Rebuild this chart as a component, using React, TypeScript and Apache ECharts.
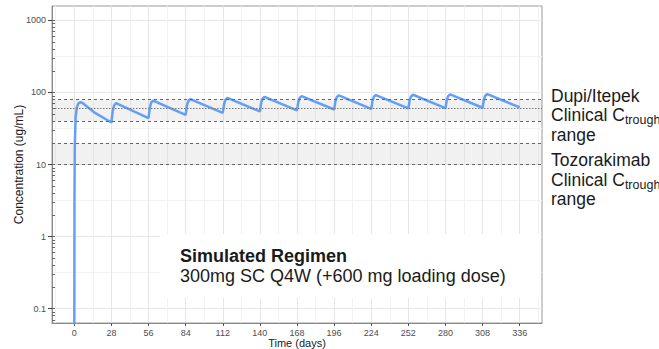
import React, { useEffect, useRef } from "react";
import * as echarts from "echarts";

// Simulated concentration-time profile (days, ug/mL)
const days = [
  0, 0.15, 0.4, 1, 2, 3, 4.5, 6, 15,
  28, 29, 30, 31.5,
  56, 57, 58, 59.5,
  84, 85, 86, 87.5,
  112, 113, 114, 115.5,
  140, 141, 142, 143.5,
  168, 169, 170, 171.5,
  196, 197, 198, 199.5,
  224, 225, 226, 227.5,
  252, 253, 254, 255.5,
  280, 281, 282, 283.5,
  308, 309, 310, 311.5,
  336,
];
const conc = [
  0.01, 3, 18, 45, 63, 70, 73, 72, 53,
  38.3, 55, 66, 71,
  44, 61.5, 72, 77,
  49, 66, 76, 81,
  52, 69, 79, 84,
  54.5, 72, 82, 87,
  56.5, 74, 84, 89,
  58, 76, 86, 91,
  59, 77, 87, 92,
  60, 78, 88, 93,
  60.7, 79, 89, 94,
  61.3, 80, 90, 95,
  62,
];

const xTicks = [0, 28, 56, 84, 112, 140, 168, 196, 224, 252, 280, 308, 336];
const xMinorGrid = [-14, 14, 42, 70, 98, 126, 154, 182, 210, 238, 266, 294, 322, 350];
const yTicks = [0.1, 1, 10, 100, 1000];
const yHalfGrid = [0.316, 3.16, 31.6, 316];
const yLogTicks = [
  0.07, 0.08, 0.09, 0.1,
  0.2, 0.3, 0.4, 0.5, 0.6, 0.7, 0.8, 0.9, 1,
  2, 3, 4, 5, 6, 7, 8, 9, 10,
  20, 30, 40, 50, 60, 70, 80, 90, 100,
  200, 300, 400, 500, 600, 700, 800, 900, 1000,
];
const dupiRange = [40, 80];
const dupiMid = 60;
const tozoRange = [10, 20];

const FONT = '"Liberation Sans", Arial, Helvetica, sans-serif';

export default function App() {
  const ref = useRef<HTMLDivElement>(null);
  useEffect(() => {
    if (!ref.current) return;
    const chart = echarts.init(ref.current, null, { renderer: "svg" });
    const yMin = Math.pow(10, -1.2);
    const yMax = Math.pow(10, 3.2);
    const txt = (text: string, x: number, y: number, size = 17.5, weight = "normal") => ({
      type: "text",
      x,
      y,
      z: 10,
      silent: true,
      style: {
        text,
        fontSize: size,
        fontWeight: weight,
        fontFamily: FONT,
        fill: "#1a1a1a",
        verticalAlign: "middle",
        align: "left",
      },
    });
    const ctrough = (x: number, y: number) => ({
      type: "text",
      x,
      y,
      z: 10,
      silent: true,
      style: {
        text: "{m|Clinical C}{s|trough}",
        fontFamily: FONT,
        fill: "#1a1a1a",
        verticalAlign: "middle",
        align: "left",
        rich: {
          m: { fontSize: 17.5, fontFamily: FONT, fill: "#1a1a1a", lineHeight: 22, verticalAlign: "middle" },
          s: {
            fontSize: 12.5,
            fontFamily: FONT,
            fill: "#1a1a1a",
            lineHeight: 22,
            verticalAlign: "middle",
            padding: [10, 0, 0, 0],
          },
        },
      },
    });
    const option: any = {
      animation: false,
      grid: {
        left: 52,
        top: 6,
        right: 117,
        bottom: 26,
        show: true,
        borderColor: "#9a9a9a",
        borderWidth: 1,
        backgroundColor: "#fff",
        containLabel: false,
        outerBoundsMode: "none",
      },
      xAxis: [
        {
          type: "value",
          position: "bottom",
          min: -16.8,
          max: 352.8,
          name: "Time (days)",
          nameLocation: "middle",
          nameGap: 14,
          nameMoveOverlap: false,
          nameTextStyle: { fontSize: 11, lineHeight: 11, color: "#1a1a1a", fontFamily: FONT },
          axisLine: { show: true, onZero: false, lineStyle: { color: "#8a8a8a", width: 1 } },
          axisTick: { show: true, customValues: xTicks, length: 3, lineStyle: { color: "#555" } },
          axisLabel: {
            customValues: xTicks,
            fontSize: 9,
            lineHeight: 9,
            color: "#4d4d4d",
            fontFamily: FONT,
            margin: 5,
          },
          splitLine: { show: true, lineStyle: { color: "#e6e6e6", width: 1 } },
        },
        {
          type: "value",
          position: "bottom",
          min: -16.8,
          max: 352.8,
          axisLine: { show: false, onZero: false },
          axisTick: { show: false, customValues: xMinorGrid },
          axisLabel: { show: false },
          splitLine: { show: true, lineStyle: { color: "#f2f2f2", width: 1 } },
        },
      ],
      yAxis: [
        {
          type: "log",
          logBase: 10,
          position: "left",
          min: yMin,
          max: yMax,
          name: "Concentration (ug/mL)",
          nameLocation: "middle",
          nameGap: 27,
          nameMoveOverlap: false,
          nameTextStyle: { fontSize: 12, color: "#1a1a1a", fontFamily: FONT },
          axisLine: { show: true, onZero: false, lineStyle: { color: "#8a8a8a", width: 1 } },
          axisTick: { show: true, customValues: yTicks, length: 4, lineStyle: { color: "#444" } },
          axisLabel: {
            customValues: yTicks,
            fontSize: 9,
            color: "#4d4d4d",
            fontFamily: FONT,
            margin: 6,
            formatter: (v: number) => String(v),
          },
          splitLine: { show: true, lineStyle: { color: "#e6e6e6", width: 1 } },
        },
        {
          type: "log",
          logBase: 10,
          position: "left",
          min: yMin,
          max: yMax,
          axisLine: { show: false, onZero: false },
          axisTick: {
            show: true,
            inside: true,
            customValues: yLogTicks,
            length: 3,
            lineStyle: { color: "#666", width: 1 },
          },
          axisLabel: { show: false },
          splitLine: { show: false },
        },
        {
          type: "log",
          logBase: 10,
          position: "left",
          min: yMin,
          max: yMax,
          axisLine: { show: false, onZero: false },
          axisTick: { show: false, customValues: yHalfGrid },
          axisLabel: { show: false },
          splitLine: { show: true, lineStyle: { color: "#f2f2f2", width: 1 } },
        },
      ],
      series: [
        {
          type: "line",
          xAxisIndex: 0,
          yAxisIndex: 0,
          data: days.map((d, i) => [d, conc[i]]),
          showSymbol: false,
          symbol: "none",
          clip: true,
          z: 4,
          lineStyle: { color: "#62a0f8", width: 2.5 },
          markArea: {
            silent: true,
            itemStyle: { color: "rgba(0,0,0,0.055)" },
            data: [
              [{ yAxis: dupiRange[0] }, { yAxis: dupiRange[1] }],
              [{ yAxis: tozoRange[0] }, { yAxis: tozoRange[1] }],
            ],
          },
          markLine: {
            silent: true,
            symbol: ["none", "none"],
            label: { show: false },
            lineStyle: { color: "#666", type: [3, 3], width: 1 },
            data: [
              { yAxis: dupiRange[1] },
              { yAxis: dupiMid, lineStyle: { type: [1.5, 1.5], color: "#777" } },
              { yAxis: dupiRange[0] },
              { yAxis: tozoRange[1] },
              { yAxis: tozoRange[0] },
            ],
          },
        },
      ],
      graphic: [
        {
          type: "rect",
          z: 1,
          silent: true,
          shape: { x: 160, y: 234, width: 381, height: 64 },
          style: { fill: "#ffffff" },
        },
        txt("Simulated Regimen", 180, 255.5, 18, "bold"),
        txt("300mg SC Q4W (+600 mg loading dose)", 180, 275.5, 18),
        txt("Dupi/Itepek", 551, 95.5),
        ctrough(551, 115),
        txt("range", 551, 134.5),
        txt("Tozorakimab", 551, 160),
        ctrough(551, 179.5),
        txt("range", 551, 199),
      ],
    };
    chart.setOption(option);
    return () => chart.dispose();
  }, []);
  return <div ref={ref} style={{ width: 659, height: 349, position: "absolute", left: 0, top: 0 }} />;
}
